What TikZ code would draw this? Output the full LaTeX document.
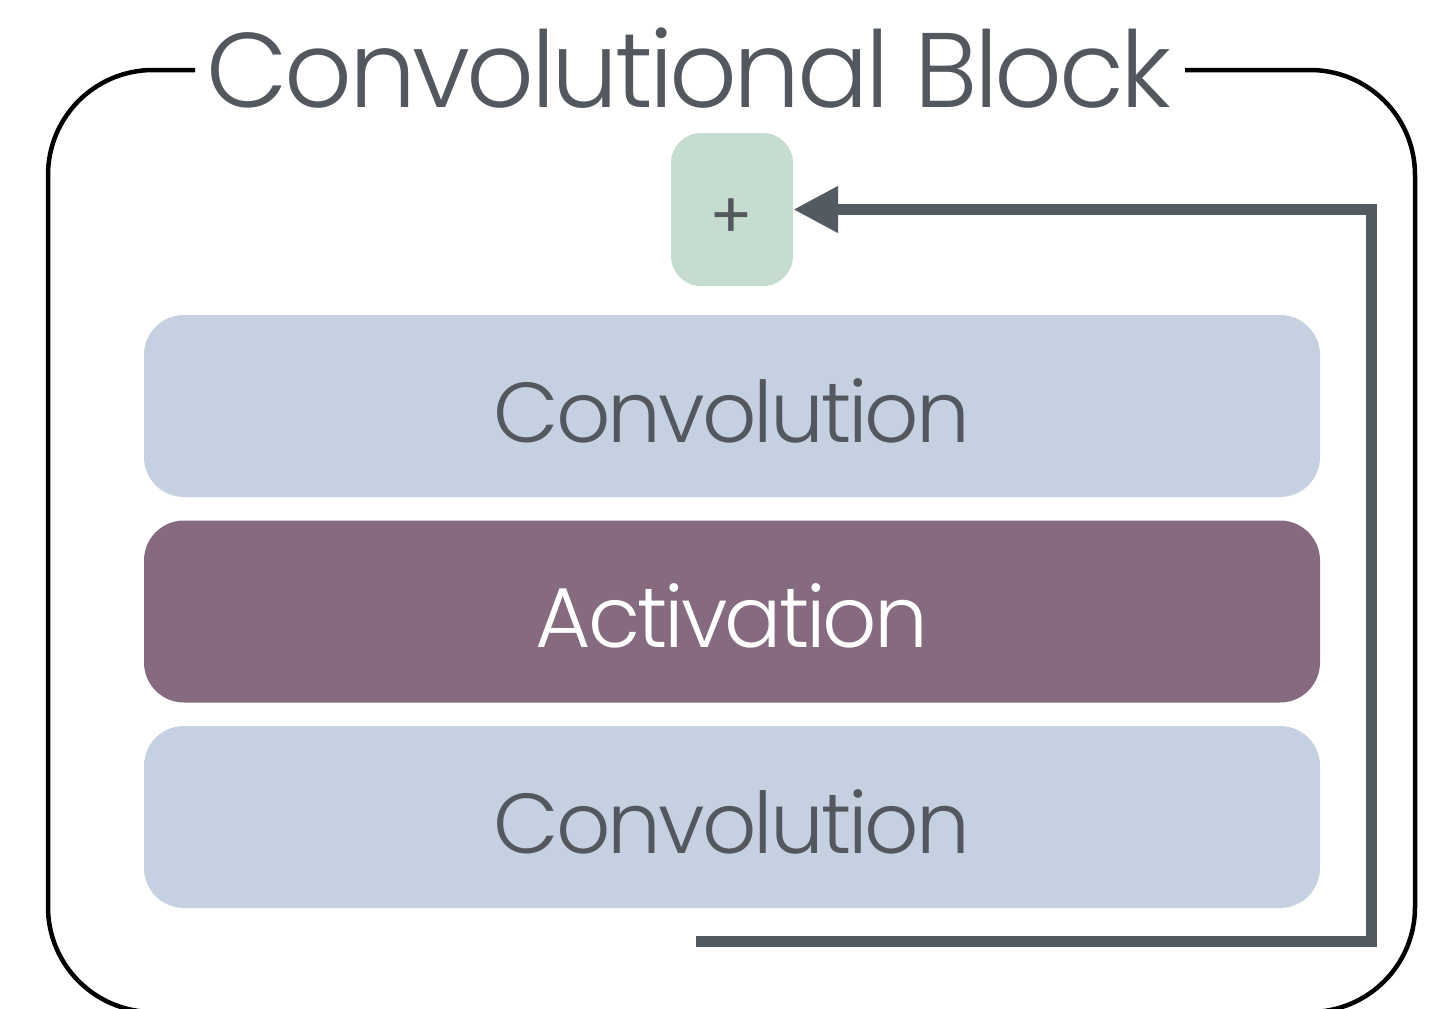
\documentclass[tikz,border=0pt]{standalone}
\usepackage{fontspec}
\setmainfont{Poppins Light}[LetterSpace=-3.5]
\newfontfamily\plusfont{Poppins}
\usetikzlibrary{arrows.meta}

\definecolor{ink}{HTML}{53585F}
\definecolor{convfill}{HTML}{C5D1E1}
\definecolor{actfill}{HTML}{856A80}
\definecolor{sumfill}{HTML}{C7DCD0}
\definecolor{wire}{HTML}{545A61}

\begin{document}
\begin{tikzpicture}[x=1pt,y=-1pt,
  frame/.style={draw=black, line width=4.5pt, rounded corners=105pt},
  layer/.style={rounded corners=40pt, minimum width=1176pt, inner sep=0pt,
    text height=127pt, text depth=55pt, font=\fontsize{85}{85}\selectfont},
  convlayer/.style={layer, fill=convfill, text=ink},
  actlayer/.style={layer, fill=actfill, text=white},
  sumbox/.style={fill=sumfill, rounded corners=30pt, minimum width=122pt,
    minimum height=153pt, inner sep=0pt},
  skip/.style={draw=wire, line width=11pt, -{Triangle[length=45pt,width=44pt]}},
  heading/.style={text=ink, inner sep=0pt, anchor=base, font=\fontsize{106}{106}\selectfont}]

\useasboundingbox (0,0) rectangle (1446,1009);

% outer frame with an opening for the heading
\draw[frame] (195,70) -- (48,70) -- (48,1012) -- (1415,1012) -- (1415,70) -- (1185,70);
\node[heading] (title) at (689,107) {Convolutional Block};

% stacked layers
\node[convlayer] (conv1) at (732,406) {Convolution};
\node[actlayer]  (act)   at (732,611.5) {Activation};
\node[convlayer] (conv2) at (732,817) {Convolution};

% residual sum
\node[sumbox] (plus) at (732,209.5) {};
\node[text=ink, inner sep=0pt, font=\plusfont\fontsize{64}{64}\selectfont] (plussign) at (731,219) {+};

% skip connection
\coordinate (skipstart) at (696,941.5);
\coordinate (skipturn) at (1371.5,209.5);
\draw[skip] (skipstart) -| (skipturn) -- (plus.east);

\end{tikzpicture}
\end{document}
